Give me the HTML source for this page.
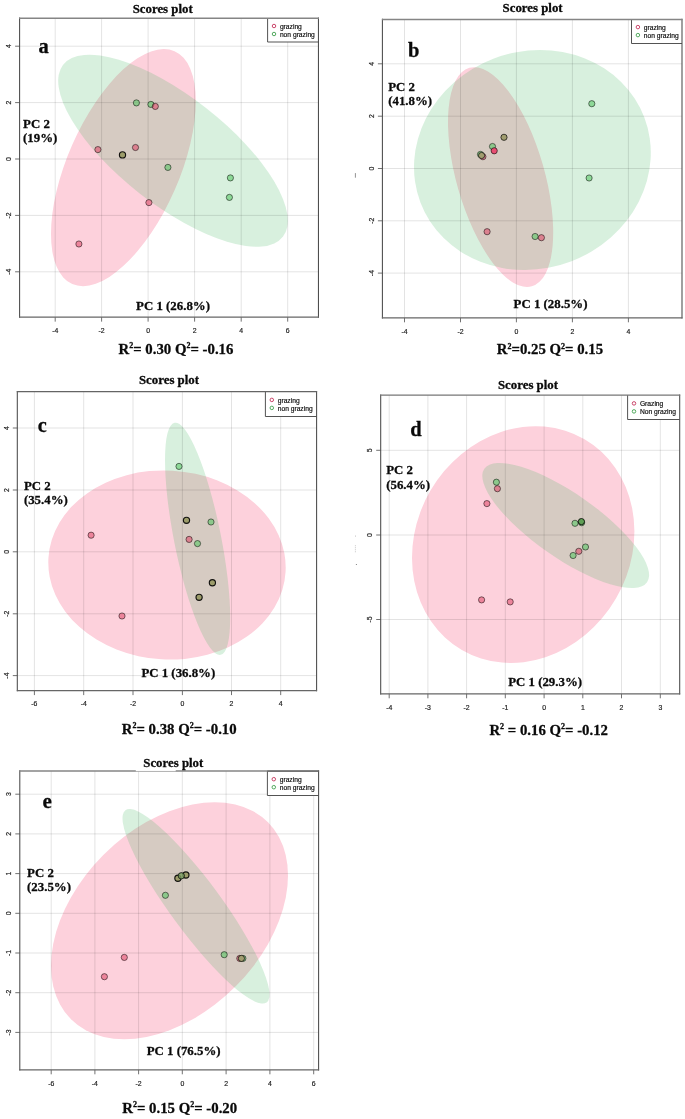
<!DOCTYPE html>
<html><head><meta charset="utf-8"><title>Scores plots</title>
<style>
html,body{margin:0;padding:0;background:#fff;}
body{width:685px;height:1119px;overflow:hidden;font-family:"Liberation Sans",sans-serif;}
svg{display:block;will-change:transform;}
</style></head><body>
<svg width="685" height="1119" viewBox="0 0 685 1119">
<rect width="685" height="1119" fill="#fff"/>
<clipPath id="cpa"><rect x="19.6" y="18.15" width="298.84999999999997" height="299.0"/></clipPath>
<g clip-path="url(#cpa)">
<ellipse cx="123.40" cy="167.60" rx="127.18" ry="55.98" transform="rotate(113.71 123.40 167.60)" fill="rgb(253,209,220)" />
<ellipse cx="173.00" cy="150.80" rx="139.53" ry="54.10" transform="rotate(-141.93 173.00 150.80)" fill="rgb(60,180,90)" fill-opacity="0.2"/>
<line x1="55.20" y1="18.15" x2="55.20" y2="317.15" stroke="#000" stroke-opacity="0.11" stroke-width="1"/>
<line x1="101.60" y1="18.15" x2="101.60" y2="317.15" stroke="#000" stroke-opacity="0.11" stroke-width="1"/>
<line x1="148.10" y1="18.15" x2="148.10" y2="317.15" stroke="#000" stroke-opacity="0.11" stroke-width="1"/>
<line x1="194.60" y1="18.15" x2="194.60" y2="317.15" stroke="#000" stroke-opacity="0.11" stroke-width="1"/>
<line x1="241.20" y1="18.15" x2="241.20" y2="317.15" stroke="#000" stroke-opacity="0.11" stroke-width="1"/>
<line x1="287.70" y1="18.15" x2="287.70" y2="317.15" stroke="#000" stroke-opacity="0.11" stroke-width="1"/>
<line x1="19.6" y1="46.20" x2="318.45" y2="46.20" stroke="#000" stroke-opacity="0.11" stroke-width="1"/>
<line x1="19.6" y1="102.60" x2="318.45" y2="102.60" stroke="#000" stroke-opacity="0.11" stroke-width="1"/>
<line x1="19.6" y1="159.00" x2="318.45" y2="159.00" stroke="#000" stroke-opacity="0.11" stroke-width="1"/>
<line x1="19.6" y1="215.40" x2="318.45" y2="215.40" stroke="#000" stroke-opacity="0.11" stroke-width="1"/>
<line x1="19.6" y1="271.80" x2="318.45" y2="271.80" stroke="#000" stroke-opacity="0.11" stroke-width="1"/>
<circle cx="97.90" cy="149.60" r="3.1" fill="rgb(223,72,104)" fill-opacity="0.56" stroke="#000" stroke-opacity="0.68" stroke-width="0.75"/>
<circle cx="135.50" cy="147.50" r="3.1" fill="rgb(223,72,104)" fill-opacity="0.56" stroke="#000" stroke-opacity="0.68" stroke-width="0.75"/>
<circle cx="122.50" cy="154.90" r="3.1" fill="rgb(156,156,106)" fill-opacity="1" stroke="#000" stroke-opacity="0.9" stroke-width="1.15"/>
<circle cx="148.90" cy="202.60" r="3.1" fill="rgb(223,72,104)" fill-opacity="0.56" stroke="#000" stroke-opacity="0.68" stroke-width="0.75"/>
<circle cx="78.90" cy="244.00" r="3.1" fill="rgb(223,72,104)" fill-opacity="0.56" stroke="#000" stroke-opacity="0.68" stroke-width="0.75"/>
<circle cx="136.40" cy="102.90" r="3.1" fill="rgb(82,198,96)" fill-opacity="0.56" stroke="#000" stroke-opacity="0.68" stroke-width="0.75"/>
<circle cx="150.90" cy="104.40" r="3.1" fill="rgb(82,198,96)" fill-opacity="0.56" stroke="#000" stroke-opacity="0.68" stroke-width="0.75"/>
<circle cx="155.30" cy="106.40" r="3.1" fill="rgb(223,72,104)" fill-opacity="0.56" stroke="#000" stroke-opacity="0.68" stroke-width="0.75"/>
<circle cx="167.90" cy="167.40" r="3.1" fill="rgb(82,198,96)" fill-opacity="0.56" stroke="#000" stroke-opacity="0.68" stroke-width="0.75"/>
<circle cx="230.40" cy="177.90" r="3.1" fill="rgb(82,198,96)" fill-opacity="0.56" stroke="#000" stroke-opacity="0.68" stroke-width="0.75"/>
<circle cx="229.40" cy="197.40" r="3.1" fill="rgb(82,198,96)" fill-opacity="0.56" stroke="#000" stroke-opacity="0.68" stroke-width="0.75"/>
</g>
<line x1="55.20" y1="317.15" x2="55.20" y2="321.65" stroke="#6a6a6a" stroke-width="0.95"/>
<text x="55.20" y="332.84999999999997" font-family="Liberation Sans, sans-serif" stroke="#222" stroke-width="0.18" font-size="6.9" text-anchor="middle" fill="#1a1a1a">-4</text>
<line x1="101.60" y1="317.15" x2="101.60" y2="321.65" stroke="#6a6a6a" stroke-width="0.95"/>
<text x="101.60" y="332.84999999999997" font-family="Liberation Sans, sans-serif" stroke="#222" stroke-width="0.18" font-size="6.9" text-anchor="middle" fill="#1a1a1a">-2</text>
<line x1="148.10" y1="317.15" x2="148.10" y2="321.65" stroke="#6a6a6a" stroke-width="0.95"/>
<text x="148.10" y="332.84999999999997" font-family="Liberation Sans, sans-serif" stroke="#222" stroke-width="0.18" font-size="6.9" text-anchor="middle" fill="#1a1a1a">0</text>
<line x1="194.60" y1="317.15" x2="194.60" y2="321.65" stroke="#6a6a6a" stroke-width="0.95"/>
<text x="194.60" y="332.84999999999997" font-family="Liberation Sans, sans-serif" stroke="#222" stroke-width="0.18" font-size="6.9" text-anchor="middle" fill="#1a1a1a">2</text>
<line x1="241.20" y1="317.15" x2="241.20" y2="321.65" stroke="#6a6a6a" stroke-width="0.95"/>
<text x="241.20" y="332.84999999999997" font-family="Liberation Sans, sans-serif" stroke="#222" stroke-width="0.18" font-size="6.9" text-anchor="middle" fill="#1a1a1a">4</text>
<line x1="287.70" y1="317.15" x2="287.70" y2="321.65" stroke="#6a6a6a" stroke-width="0.95"/>
<text x="287.70" y="332.84999999999997" font-family="Liberation Sans, sans-serif" stroke="#222" stroke-width="0.18" font-size="6.9" text-anchor="middle" fill="#1a1a1a">6</text>
<line x1="15.100000000000001" y1="46.20" x2="19.6" y2="46.20" stroke="#6a6a6a" stroke-width="0.95"/>
<text transform="translate(11.10 46.20) rotate(-90)" font-family="Liberation Sans, sans-serif" stroke="#222" stroke-width="0.18" font-size="6.9" text-anchor="middle" fill="#1a1a1a">4</text>
<line x1="15.100000000000001" y1="102.60" x2="19.6" y2="102.60" stroke="#6a6a6a" stroke-width="0.95"/>
<text transform="translate(11.10 102.60) rotate(-90)" font-family="Liberation Sans, sans-serif" stroke="#222" stroke-width="0.18" font-size="6.9" text-anchor="middle" fill="#1a1a1a">2</text>
<line x1="15.100000000000001" y1="159.00" x2="19.6" y2="159.00" stroke="#6a6a6a" stroke-width="0.95"/>
<text transform="translate(11.10 159.00) rotate(-90)" font-family="Liberation Sans, sans-serif" stroke="#222" stroke-width="0.18" font-size="6.9" text-anchor="middle" fill="#1a1a1a">0</text>
<line x1="15.100000000000001" y1="215.40" x2="19.6" y2="215.40" stroke="#6a6a6a" stroke-width="0.95"/>
<text transform="translate(11.10 215.40) rotate(-90)" font-family="Liberation Sans, sans-serif" stroke="#222" stroke-width="0.18" font-size="6.9" text-anchor="middle" fill="#1a1a1a">-2</text>
<line x1="15.100000000000001" y1="271.80" x2="19.6" y2="271.80" stroke="#6a6a6a" stroke-width="0.95"/>
<text transform="translate(11.10 271.80) rotate(-90)" font-family="Liberation Sans, sans-serif" stroke="#222" stroke-width="0.18" font-size="6.9" text-anchor="middle" fill="#1a1a1a">-4</text>
<rect x="267.6" y="18.15" width="50.849999999999966" height="23.85" fill="#fff"/>
<path d="M267.6 18.15V42.0H318.45" fill="none" stroke="#4a4a4a" stroke-width="0.95"/>
<circle cx="274.0" cy="26.0" r="1.75" fill="none" stroke="#C4325A" stroke-width="0.9"/>
<circle cx="274.0" cy="34.0" r="1.75" fill="none" stroke="#3FA04D" stroke-width="0.9"/>
<text x="279.90000000000003" y="28.8" font-family="Liberation Sans, sans-serif" stroke="#222" stroke-width="0.18" font-size="6.7" fill="#000">grazing</text>
<text x="279.90000000000003" y="36.8" font-family="Liberation Sans, sans-serif" stroke="#222" stroke-width="0.18" font-size="6.7" fill="#000">non grazing</text>
<path d="M19.6 17.549999999999997V317.75M318.45 17.549999999999997V317.75" fill="none" stroke="#4a4a4a" stroke-width="1.05"/>
<path d="M19.1 18.15H318.95" fill="none" stroke="#858585" stroke-width="1.45"/>
<path d="M19.1 317.15H318.95" fill="none" stroke="#666" stroke-width="1.35"/>

<text x="162.7" y="12.6" font-family="Liberation Serif, serif" font-weight="bold" fill="#0a0a0a" stroke="#0a0a0a" stroke-width="0.28" font-size="12.85" text-anchor="middle">Scores plot</text>
<text x="38.6" y="52.6" font-family="Liberation Serif, serif" font-weight="bold" fill="#0a0a0a" stroke="#0a0a0a" stroke-width="0.28" font-size="20.5">a</text>
<text x="23.1" y="128" font-family="Liberation Serif, serif" font-weight="bold" fill="#0a0a0a" stroke="#0a0a0a" stroke-width="0.28" font-size="12.85">PC 2</text>
<text x="23.1" y="142.35" font-family="Liberation Serif, serif" font-weight="bold" fill="#0a0a0a" stroke="#0a0a0a" stroke-width="0.28" font-size="12.85">(19%)</text>
<text x="136.1" y="310.1" font-family="Liberation Serif, serif" font-weight="bold" fill="#0a0a0a" stroke="#0a0a0a" stroke-width="0.28" font-size="12.85">PC 1 (26.8%)</text>
<text x="118.5" y="353.5" font-family="Liberation Serif, serif" font-weight="bold" fill="#0a0a0a" stroke="#0a0a0a" stroke-width="0.28" font-size="14.8"><tspan>R</tspan><tspan font-size="8" dy="-5.6">2</tspan><tspan dy="5.6" font-size="14.8">&#8203;</tspan><tspan>= 0.30 Q</tspan><tspan font-size="8" dy="-5.6">2</tspan><tspan dy="5.6" font-size="14.8">&#8203;</tspan><tspan>= -0.16</tspan></text>
<clipPath id="cpb"><rect x="382.4" y="19.4" width="299.6" height="298.40000000000003"/></clipPath>
<g clip-path="url(#cpb)">
<ellipse cx="500.60" cy="177.10" rx="113.61" ry="44.02" transform="rotate(74.04 500.60 177.10)" fill="rgb(253,209,220)" />
<ellipse cx="532.40" cy="160.00" rx="119.75" ry="108.52" transform="rotate(159.23 532.40 160.00)" fill="rgb(60,180,90)" fill-opacity="0.2"/>
<line x1="404.50" y1="19.4" x2="404.50" y2="317.8" stroke="#000" stroke-opacity="0.11" stroke-width="1"/>
<line x1="460.50" y1="19.4" x2="460.50" y2="317.8" stroke="#000" stroke-opacity="0.11" stroke-width="1"/>
<line x1="516.40" y1="19.4" x2="516.40" y2="317.8" stroke="#000" stroke-opacity="0.11" stroke-width="1"/>
<line x1="572.40" y1="19.4" x2="572.40" y2="317.8" stroke="#000" stroke-opacity="0.11" stroke-width="1"/>
<line x1="628.40" y1="19.4" x2="628.40" y2="317.8" stroke="#000" stroke-opacity="0.11" stroke-width="1"/>
<line x1="382.4" y1="63.80" x2="682" y2="63.80" stroke="#000" stroke-opacity="0.11" stroke-width="1"/>
<line x1="382.4" y1="116.20" x2="682" y2="116.20" stroke="#000" stroke-opacity="0.11" stroke-width="1"/>
<line x1="382.4" y1="168.50" x2="682" y2="168.50" stroke="#000" stroke-opacity="0.11" stroke-width="1"/>
<line x1="382.4" y1="220.80" x2="682" y2="220.80" stroke="#000" stroke-opacity="0.11" stroke-width="1"/>
<line x1="382.4" y1="273.10" x2="682" y2="273.10" stroke="#000" stroke-opacity="0.11" stroke-width="1"/>
<circle cx="504.00" cy="137.30" r="3.1" fill="rgb(161,157,111)" fill-opacity="1" stroke="#000" stroke-opacity="0.8" stroke-width="0.85"/>
<circle cx="492.50" cy="146.50" r="3.1" fill="rgb(82,198,96)" fill-opacity="0.56" stroke="#000" stroke-opacity="0.68" stroke-width="0.75"/>
<circle cx="494.20" cy="150.80" r="3.1" fill="rgb(232,78,114)" fill-opacity="1" stroke="#000" stroke-opacity="0.75" stroke-width="0.8"/>
<circle cx="482.90" cy="156.70" r="3.1" fill="rgb(223,72,104)" fill-opacity="0.56" stroke="#000" stroke-opacity="0.68" stroke-width="0.75"/>
<circle cx="480.50" cy="154.40" r="3.1" fill="rgb(82,198,96)" fill-opacity="0.56" stroke="#000" stroke-opacity="0.68" stroke-width="0.75"/>
<circle cx="481.60" cy="155.50" r="3.1" fill="rgb(161,157,111)" fill-opacity="1" stroke="#000" stroke-opacity="0.8" stroke-width="0.85"/>
<circle cx="591.80" cy="103.70" r="3.1" fill="rgb(82,198,96)" fill-opacity="0.56" stroke="#000" stroke-opacity="0.68" stroke-width="0.75"/>
<circle cx="589.10" cy="178.00" r="3.1" fill="rgb(82,198,96)" fill-opacity="0.56" stroke="#000" stroke-opacity="0.68" stroke-width="0.75"/>
<circle cx="487.10" cy="231.70" r="3.1" fill="rgb(223,72,104)" fill-opacity="0.56" stroke="#000" stroke-opacity="0.68" stroke-width="0.75"/>
<circle cx="535.10" cy="236.50" r="3.1" fill="rgb(82,198,96)" fill-opacity="0.56" stroke="#000" stroke-opacity="0.68" stroke-width="0.75"/>
<circle cx="541.40" cy="237.70" r="3.1" fill="rgb(223,72,104)" fill-opacity="0.56" stroke="#000" stroke-opacity="0.68" stroke-width="0.75"/>
</g>
<line x1="404.50" y1="317.8" x2="404.50" y2="322.3" stroke="#6a6a6a" stroke-width="0.95"/>
<text x="404.50" y="333.5" font-family="Liberation Sans, sans-serif" stroke="#222" stroke-width="0.18" font-size="6.9" text-anchor="middle" fill="#1a1a1a">-4</text>
<line x1="460.50" y1="317.8" x2="460.50" y2="322.3" stroke="#6a6a6a" stroke-width="0.95"/>
<text x="460.50" y="333.5" font-family="Liberation Sans, sans-serif" stroke="#222" stroke-width="0.18" font-size="6.9" text-anchor="middle" fill="#1a1a1a">-2</text>
<line x1="516.40" y1="317.8" x2="516.40" y2="322.3" stroke="#6a6a6a" stroke-width="0.95"/>
<text x="516.40" y="333.5" font-family="Liberation Sans, sans-serif" stroke="#222" stroke-width="0.18" font-size="6.9" text-anchor="middle" fill="#1a1a1a">0</text>
<line x1="572.40" y1="317.8" x2="572.40" y2="322.3" stroke="#6a6a6a" stroke-width="0.95"/>
<text x="572.40" y="333.5" font-family="Liberation Sans, sans-serif" stroke="#222" stroke-width="0.18" font-size="6.9" text-anchor="middle" fill="#1a1a1a">2</text>
<line x1="628.40" y1="317.8" x2="628.40" y2="322.3" stroke="#6a6a6a" stroke-width="0.95"/>
<text x="628.40" y="333.5" font-family="Liberation Sans, sans-serif" stroke="#222" stroke-width="0.18" font-size="6.9" text-anchor="middle" fill="#1a1a1a">4</text>
<line x1="377.9" y1="63.80" x2="382.4" y2="63.80" stroke="#6a6a6a" stroke-width="0.95"/>
<text transform="translate(373.90 63.80) rotate(-90)" font-family="Liberation Sans, sans-serif" stroke="#222" stroke-width="0.18" font-size="6.9" text-anchor="middle" fill="#1a1a1a">4</text>
<line x1="377.9" y1="116.20" x2="382.4" y2="116.20" stroke="#6a6a6a" stroke-width="0.95"/>
<text transform="translate(373.90 116.20) rotate(-90)" font-family="Liberation Sans, sans-serif" stroke="#222" stroke-width="0.18" font-size="6.9" text-anchor="middle" fill="#1a1a1a">2</text>
<line x1="377.9" y1="168.50" x2="382.4" y2="168.50" stroke="#6a6a6a" stroke-width="0.95"/>
<text transform="translate(373.90 168.50) rotate(-90)" font-family="Liberation Sans, sans-serif" stroke="#222" stroke-width="0.18" font-size="6.9" text-anchor="middle" fill="#1a1a1a">0</text>
<line x1="377.9" y1="220.80" x2="382.4" y2="220.80" stroke="#6a6a6a" stroke-width="0.95"/>
<text transform="translate(373.90 220.80) rotate(-90)" font-family="Liberation Sans, sans-serif" stroke="#222" stroke-width="0.18" font-size="6.9" text-anchor="middle" fill="#1a1a1a">-2</text>
<line x1="377.9" y1="273.10" x2="382.4" y2="273.10" stroke="#6a6a6a" stroke-width="0.95"/>
<text transform="translate(373.90 273.10) rotate(-90)" font-family="Liberation Sans, sans-serif" stroke="#222" stroke-width="0.18" font-size="6.9" text-anchor="middle" fill="#1a1a1a">-4</text>
<rect x="631.5" y="19.4" width="50.5" height="24.1" fill="#fff"/>
<path d="M631.5 19.4V43.5H682" fill="none" stroke="#4a4a4a" stroke-width="0.95"/>
<circle cx="637.9" cy="27.1" r="1.75" fill="none" stroke="#C4325A" stroke-width="0.9"/>
<circle cx="637.9" cy="35.1" r="1.75" fill="none" stroke="#3FA04D" stroke-width="0.9"/>
<text x="643.8" y="29.900000000000002" font-family="Liberation Sans, sans-serif" stroke="#222" stroke-width="0.18" font-size="6.7" fill="#000">grazing</text>
<text x="643.8" y="37.9" font-family="Liberation Sans, sans-serif" stroke="#222" stroke-width="0.18" font-size="6.7" fill="#000">non grazing</text>
<path d="M382.4 18.799999999999997V318.40000000000003M682 18.799999999999997V318.40000000000003" fill="none" stroke="#4a4a4a" stroke-width="1.05"/>
<path d="M381.9 19.4H682.5" fill="none" stroke="#858585" stroke-width="1.45"/>
<path d="M381.9 317.8H682.5" fill="none" stroke="#666" stroke-width="1.35"/>
<line x1="355.4" y1="173.1" x2="355.4" y2="177.7" stroke="#777" stroke-width="0.8"/>
<text x="532.6" y="11.9" font-family="Liberation Serif, serif" font-weight="bold" fill="#0a0a0a" stroke="#0a0a0a" stroke-width="0.28" font-size="12.85" text-anchor="middle">Scores plot</text>
<text x="407.9" y="57.3" font-family="Liberation Serif, serif" font-weight="bold" fill="#0a0a0a" stroke="#0a0a0a" stroke-width="0.28" font-size="20.5">b</text>
<text x="388.2" y="90.9" font-family="Liberation Serif, serif" font-weight="bold" fill="#0a0a0a" stroke="#0a0a0a" stroke-width="0.28" font-size="12.85">PC 2</text>
<text x="388.2" y="105.25" font-family="Liberation Serif, serif" font-weight="bold" fill="#0a0a0a" stroke="#0a0a0a" stroke-width="0.28" font-size="12.85">(41.8%)</text>
<text x="513.6" y="308.1" font-family="Liberation Serif, serif" font-weight="bold" fill="#0a0a0a" stroke="#0a0a0a" stroke-width="0.28" font-size="12.85">PC 1 (28.5%)</text>
<text x="496.8" y="354.2" font-family="Liberation Serif, serif" font-weight="bold" fill="#0a0a0a" stroke="#0a0a0a" stroke-width="0.28" font-size="14.8"><tspan>R</tspan><tspan font-size="8" dy="-5.6">2</tspan><tspan dy="5.6" font-size="14.8">&#8203;</tspan><tspan>=0.25 Q</tspan><tspan font-size="8" dy="-5.6">2</tspan><tspan dy="5.6" font-size="14.8">&#8203;</tspan><tspan>= 0.15</tspan></text>
<clipPath id="cpc"><rect x="17.3" y="391.6" width="299.3" height="299.0"/></clipPath>
<g clip-path="url(#cpc)">
<ellipse cx="167.00" cy="565.00" rx="118.77" ry="94.51" transform="rotate(-176.67 167.00 565.00)" fill="rgb(253,209,220)" />
<ellipse cx="197.60" cy="538.80" rx="118.28" ry="23.49" transform="rotate(78.76 197.60 538.80)" fill="rgb(60,180,90)" fill-opacity="0.2"/>
<line x1="34.40" y1="391.6" x2="34.40" y2="690.6" stroke="#000" stroke-opacity="0.11" stroke-width="1"/>
<line x1="83.70" y1="391.6" x2="83.70" y2="690.6" stroke="#000" stroke-opacity="0.11" stroke-width="1"/>
<line x1="133.00" y1="391.6" x2="133.00" y2="690.6" stroke="#000" stroke-opacity="0.11" stroke-width="1"/>
<line x1="182.40" y1="391.6" x2="182.40" y2="690.6" stroke="#000" stroke-opacity="0.11" stroke-width="1"/>
<line x1="231.50" y1="391.6" x2="231.50" y2="690.6" stroke="#000" stroke-opacity="0.11" stroke-width="1"/>
<line x1="280.70" y1="391.6" x2="280.70" y2="690.6" stroke="#000" stroke-opacity="0.11" stroke-width="1"/>
<line x1="17.3" y1="428.00" x2="316.6" y2="428.00" stroke="#000" stroke-opacity="0.11" stroke-width="1"/>
<line x1="17.3" y1="490.00" x2="316.6" y2="490.00" stroke="#000" stroke-opacity="0.11" stroke-width="1"/>
<line x1="17.3" y1="551.80" x2="316.6" y2="551.80" stroke="#000" stroke-opacity="0.11" stroke-width="1"/>
<line x1="17.3" y1="613.80" x2="316.6" y2="613.80" stroke="#000" stroke-opacity="0.11" stroke-width="1"/>
<line x1="17.3" y1="675.60" x2="316.6" y2="675.60" stroke="#000" stroke-opacity="0.11" stroke-width="1"/>
<circle cx="91.10" cy="535.20" r="3.1" fill="rgb(223,72,104)" fill-opacity="0.56" stroke="#000" stroke-opacity="0.68" stroke-width="0.75"/>
<circle cx="122.00" cy="616.00" r="3.1" fill="rgb(223,72,104)" fill-opacity="0.56" stroke="#000" stroke-opacity="0.68" stroke-width="0.75"/>
<circle cx="179.00" cy="466.40" r="3.1" fill="rgb(82,198,96)" fill-opacity="0.56" stroke="#000" stroke-opacity="0.68" stroke-width="0.75"/>
<circle cx="186.50" cy="520.30" r="3.1" fill="rgb(156,156,106)" fill-opacity="1" stroke="#000" stroke-opacity="0.9" stroke-width="1.15"/>
<circle cx="211.00" cy="522.00" r="3.1" fill="rgb(82,198,96)" fill-opacity="0.56" stroke="#000" stroke-opacity="0.68" stroke-width="0.75"/>
<circle cx="189.10" cy="539.40" r="3.1" fill="rgb(223,72,104)" fill-opacity="0.56" stroke="#000" stroke-opacity="0.68" stroke-width="0.75"/>
<circle cx="197.50" cy="543.60" r="3.1" fill="rgb(82,198,96)" fill-opacity="0.56" stroke="#000" stroke-opacity="0.68" stroke-width="0.75"/>
<circle cx="212.40" cy="582.70" r="3.1" fill="rgb(156,156,106)" fill-opacity="1" stroke="#000" stroke-opacity="0.9" stroke-width="1.15"/>
<circle cx="199.10" cy="597.30" r="3.1" fill="rgb(156,156,106)" fill-opacity="1" stroke="#000" stroke-opacity="0.9" stroke-width="1.15"/>
</g>
<line x1="34.40" y1="690.6" x2="34.40" y2="695.1" stroke="#6a6a6a" stroke-width="0.95"/>
<text x="34.40" y="706.3000000000001" font-family="Liberation Sans, sans-serif" stroke="#222" stroke-width="0.18" font-size="6.9" text-anchor="middle" fill="#1a1a1a">-6</text>
<line x1="83.70" y1="690.6" x2="83.70" y2="695.1" stroke="#6a6a6a" stroke-width="0.95"/>
<text x="83.70" y="706.3000000000001" font-family="Liberation Sans, sans-serif" stroke="#222" stroke-width="0.18" font-size="6.9" text-anchor="middle" fill="#1a1a1a">-4</text>
<line x1="133.00" y1="690.6" x2="133.00" y2="695.1" stroke="#6a6a6a" stroke-width="0.95"/>
<text x="133.00" y="706.3000000000001" font-family="Liberation Sans, sans-serif" stroke="#222" stroke-width="0.18" font-size="6.9" text-anchor="middle" fill="#1a1a1a">-2</text>
<line x1="182.40" y1="690.6" x2="182.40" y2="695.1" stroke="#6a6a6a" stroke-width="0.95"/>
<text x="182.40" y="706.3000000000001" font-family="Liberation Sans, sans-serif" stroke="#222" stroke-width="0.18" font-size="6.9" text-anchor="middle" fill="#1a1a1a">0</text>
<line x1="231.50" y1="690.6" x2="231.50" y2="695.1" stroke="#6a6a6a" stroke-width="0.95"/>
<text x="231.50" y="706.3000000000001" font-family="Liberation Sans, sans-serif" stroke="#222" stroke-width="0.18" font-size="6.9" text-anchor="middle" fill="#1a1a1a">2</text>
<line x1="280.70" y1="690.6" x2="280.70" y2="695.1" stroke="#6a6a6a" stroke-width="0.95"/>
<text x="280.70" y="706.3000000000001" font-family="Liberation Sans, sans-serif" stroke="#222" stroke-width="0.18" font-size="6.9" text-anchor="middle" fill="#1a1a1a">4</text>
<line x1="12.8" y1="428.00" x2="17.3" y2="428.00" stroke="#6a6a6a" stroke-width="0.95"/>
<text transform="translate(8.80 428.00) rotate(-90)" font-family="Liberation Sans, sans-serif" stroke="#222" stroke-width="0.18" font-size="6.9" text-anchor="middle" fill="#1a1a1a">4</text>
<line x1="12.8" y1="490.00" x2="17.3" y2="490.00" stroke="#6a6a6a" stroke-width="0.95"/>
<text transform="translate(8.80 490.00) rotate(-90)" font-family="Liberation Sans, sans-serif" stroke="#222" stroke-width="0.18" font-size="6.9" text-anchor="middle" fill="#1a1a1a">2</text>
<line x1="12.8" y1="551.80" x2="17.3" y2="551.80" stroke="#6a6a6a" stroke-width="0.95"/>
<text transform="translate(8.80 551.80) rotate(-90)" font-family="Liberation Sans, sans-serif" stroke="#222" stroke-width="0.18" font-size="6.9" text-anchor="middle" fill="#1a1a1a">0</text>
<line x1="12.8" y1="613.80" x2="17.3" y2="613.80" stroke="#6a6a6a" stroke-width="0.95"/>
<text transform="translate(8.80 613.80) rotate(-90)" font-family="Liberation Sans, sans-serif" stroke="#222" stroke-width="0.18" font-size="6.9" text-anchor="middle" fill="#1a1a1a">-2</text>
<line x1="12.8" y1="675.60" x2="17.3" y2="675.60" stroke="#6a6a6a" stroke-width="0.95"/>
<text transform="translate(8.80 675.60) rotate(-90)" font-family="Liberation Sans, sans-serif" stroke="#222" stroke-width="0.18" font-size="6.9" text-anchor="middle" fill="#1a1a1a">-4</text>
<rect x="265.4" y="391.6" width="51.200000000000045" height="24.899999999999977" fill="#fff"/>
<path d="M265.4 391.6V416.5H316.6" fill="none" stroke="#4a4a4a" stroke-width="0.95"/>
<circle cx="271.79999999999995" cy="399.9" r="1.75" fill="none" stroke="#C4325A" stroke-width="0.9"/>
<circle cx="271.79999999999995" cy="407.9" r="1.75" fill="none" stroke="#3FA04D" stroke-width="0.9"/>
<text x="277.7" y="402.7" font-family="Liberation Sans, sans-serif" stroke="#222" stroke-width="0.18" font-size="6.7" fill="#000">grazing</text>
<text x="277.7" y="410.7" font-family="Liberation Sans, sans-serif" stroke="#222" stroke-width="0.18" font-size="6.7" fill="#000">non grazing</text>
<path d="M17.3 391.0V691.2M316.6 391.0V691.2" fill="none" stroke="#4a4a4a" stroke-width="1.05"/>
<path d="M16.8 391.6H317.1" fill="none" stroke="#646464" stroke-width="1.45"/>
<path d="M16.8 690.6H317.1" fill="none" stroke="#666" stroke-width="1.35"/>

<text x="169" y="384" font-family="Liberation Serif, serif" font-weight="bold" fill="#0a0a0a" stroke="#0a0a0a" stroke-width="0.28" font-size="12.85" text-anchor="middle">Scores plot</text>
<text x="37.7" y="431.8" font-family="Liberation Serif, serif" font-weight="bold" fill="#0a0a0a" stroke="#0a0a0a" stroke-width="0.28" font-size="20.3">c</text>
<text x="23.9" y="489.7" font-family="Liberation Serif, serif" font-weight="bold" fill="#0a0a0a" stroke="#0a0a0a" stroke-width="0.28" font-size="12.85">PC 2</text>
<text x="23.9" y="504.05" font-family="Liberation Serif, serif" font-weight="bold" fill="#0a0a0a" stroke="#0a0a0a" stroke-width="0.28" font-size="12.85">(35.4%)</text>
<text x="141.4" y="677.2" font-family="Liberation Serif, serif" font-weight="bold" fill="#0a0a0a" stroke="#0a0a0a" stroke-width="0.28" font-size="12.85">PC 1 (36.8%)</text>
<text x="121.8" y="733.7" font-family="Liberation Serif, serif" font-weight="bold" fill="#0a0a0a" stroke="#0a0a0a" stroke-width="0.28" font-size="14.8"><tspan>R</tspan><tspan font-size="8" dy="-5.6">2</tspan><tspan dy="5.6" font-size="14.8">&#8203;</tspan><tspan>= 0.38 Q</tspan><tspan font-size="8" dy="-5.6">2</tspan><tspan dy="5.6" font-size="14.8">&#8203;</tspan><tspan>= -0.10</tspan></text>
<clipPath id="cpd"><rect x="380.7" y="395.1" width="299.00000000000006" height="298.69999999999993"/></clipPath>
<g clip-path="url(#cpd)">
<ellipse cx="523.20" cy="544.60" rx="121.93" ry="107.32" transform="rotate(120.21 523.20 544.60)" fill="rgb(253,209,220)" />
<ellipse cx="565.70" cy="525.50" rx="99.21" ry="32.11" transform="rotate(-145.08 565.70 525.50)" fill="rgb(60,180,90)" fill-opacity="0.2"/>
<line x1="389.20" y1="395.1" x2="389.20" y2="693.8" stroke="#000" stroke-opacity="0.11" stroke-width="1"/>
<line x1="427.90" y1="395.1" x2="427.90" y2="693.8" stroke="#000" stroke-opacity="0.11" stroke-width="1"/>
<line x1="466.60" y1="395.1" x2="466.60" y2="693.8" stroke="#000" stroke-opacity="0.11" stroke-width="1"/>
<line x1="505.30" y1="395.1" x2="505.30" y2="693.8" stroke="#000" stroke-opacity="0.11" stroke-width="1"/>
<line x1="544.10" y1="395.1" x2="544.10" y2="693.8" stroke="#000" stroke-opacity="0.11" stroke-width="1"/>
<line x1="582.80" y1="395.1" x2="582.80" y2="693.8" stroke="#000" stroke-opacity="0.11" stroke-width="1"/>
<line x1="621.50" y1="395.1" x2="621.50" y2="693.8" stroke="#000" stroke-opacity="0.11" stroke-width="1"/>
<line x1="660.30" y1="395.1" x2="660.30" y2="693.8" stroke="#000" stroke-opacity="0.11" stroke-width="1"/>
<line x1="380.7" y1="450.30" x2="679.7" y2="450.30" stroke="#000" stroke-opacity="0.11" stroke-width="1"/>
<line x1="380.7" y1="535.00" x2="679.7" y2="535.00" stroke="#000" stroke-opacity="0.11" stroke-width="1"/>
<line x1="380.7" y1="619.50" x2="679.7" y2="619.50" stroke="#000" stroke-opacity="0.11" stroke-width="1"/>
<circle cx="497.40" cy="488.70" r="3.1" fill="rgb(223,72,104)" fill-opacity="0.56" stroke="#000" stroke-opacity="0.68" stroke-width="0.75"/>
<circle cx="496.40" cy="482.20" r="3.1" fill="rgb(82,198,96)" fill-opacity="0.56" stroke="#000" stroke-opacity="0.68" stroke-width="0.75"/>
<circle cx="486.90" cy="503.60" r="3.1" fill="rgb(223,72,104)" fill-opacity="0.56" stroke="#000" stroke-opacity="0.68" stroke-width="0.75"/>
<circle cx="575.00" cy="523.30" r="3.1" fill="rgb(82,198,96)" fill-opacity="0.56" stroke="#000" stroke-opacity="0.68" stroke-width="0.75"/>
<circle cx="581.60" cy="522.70" r="3.1" fill="rgb(82,198,96)" fill-opacity="0.56" stroke="#000" stroke-opacity="0.68" stroke-width="0.75"/>
<circle cx="581.40" cy="521.60" r="3.1" fill="rgb(96,160,86)" fill-opacity="1" stroke="#000" stroke-opacity="0.85" stroke-width="0.95"/>
<circle cx="585.50" cy="547.00" r="3.1" fill="rgb(82,198,96)" fill-opacity="0.56" stroke="#000" stroke-opacity="0.68" stroke-width="0.75"/>
<circle cx="573.10" cy="555.50" r="3.1" fill="rgb(82,198,96)" fill-opacity="0.56" stroke="#000" stroke-opacity="0.68" stroke-width="0.75"/>
<circle cx="578.80" cy="551.30" r="3.1" fill="rgb(223,72,104)" fill-opacity="0.56" stroke="#000" stroke-opacity="0.68" stroke-width="0.75"/>
<circle cx="481.60" cy="599.90" r="3.1" fill="rgb(223,72,104)" fill-opacity="0.56" stroke="#000" stroke-opacity="0.68" stroke-width="0.75"/>
<circle cx="510.20" cy="601.90" r="3.1" fill="rgb(223,72,104)" fill-opacity="0.56" stroke="#000" stroke-opacity="0.68" stroke-width="0.75"/>
</g>
<line x1="389.20" y1="693.8" x2="389.20" y2="698.3" stroke="#6a6a6a" stroke-width="0.95"/>
<text x="389.20" y="709.5" font-family="Liberation Sans, sans-serif" stroke="#222" stroke-width="0.18" font-size="6.9" text-anchor="middle" fill="#1a1a1a">-4</text>
<line x1="427.90" y1="693.8" x2="427.90" y2="698.3" stroke="#6a6a6a" stroke-width="0.95"/>
<text x="427.90" y="709.5" font-family="Liberation Sans, sans-serif" stroke="#222" stroke-width="0.18" font-size="6.9" text-anchor="middle" fill="#1a1a1a">-3</text>
<line x1="466.60" y1="693.8" x2="466.60" y2="698.3" stroke="#6a6a6a" stroke-width="0.95"/>
<text x="466.60" y="709.5" font-family="Liberation Sans, sans-serif" stroke="#222" stroke-width="0.18" font-size="6.9" text-anchor="middle" fill="#1a1a1a">-2</text>
<line x1="505.30" y1="693.8" x2="505.30" y2="698.3" stroke="#6a6a6a" stroke-width="0.95"/>
<text x="505.30" y="709.5" font-family="Liberation Sans, sans-serif" stroke="#222" stroke-width="0.18" font-size="6.9" text-anchor="middle" fill="#1a1a1a">-1</text>
<line x1="544.10" y1="693.8" x2="544.10" y2="698.3" stroke="#6a6a6a" stroke-width="0.95"/>
<text x="544.10" y="709.5" font-family="Liberation Sans, sans-serif" stroke="#222" stroke-width="0.18" font-size="6.9" text-anchor="middle" fill="#1a1a1a">0</text>
<line x1="582.80" y1="693.8" x2="582.80" y2="698.3" stroke="#6a6a6a" stroke-width="0.95"/>
<text x="582.80" y="709.5" font-family="Liberation Sans, sans-serif" stroke="#222" stroke-width="0.18" font-size="6.9" text-anchor="middle" fill="#1a1a1a">1</text>
<line x1="621.50" y1="693.8" x2="621.50" y2="698.3" stroke="#6a6a6a" stroke-width="0.95"/>
<text x="621.50" y="709.5" font-family="Liberation Sans, sans-serif" stroke="#222" stroke-width="0.18" font-size="6.9" text-anchor="middle" fill="#1a1a1a">2</text>
<line x1="660.30" y1="693.8" x2="660.30" y2="698.3" stroke="#6a6a6a" stroke-width="0.95"/>
<text x="660.30" y="709.5" font-family="Liberation Sans, sans-serif" stroke="#222" stroke-width="0.18" font-size="6.9" text-anchor="middle" fill="#1a1a1a">3</text>
<line x1="376.2" y1="450.30" x2="380.7" y2="450.30" stroke="#6a6a6a" stroke-width="0.95"/>
<text transform="translate(372.20 450.30) rotate(-90)" font-family="Liberation Sans, sans-serif" stroke="#222" stroke-width="0.18" font-size="6.9" text-anchor="middle" fill="#1a1a1a">5</text>
<line x1="376.2" y1="535.00" x2="380.7" y2="535.00" stroke="#6a6a6a" stroke-width="0.95"/>
<text transform="translate(372.20 535.00) rotate(-90)" font-family="Liberation Sans, sans-serif" stroke="#222" stroke-width="0.18" font-size="6.9" text-anchor="middle" fill="#1a1a1a">0</text>
<line x1="376.2" y1="619.50" x2="380.7" y2="619.50" stroke="#6a6a6a" stroke-width="0.95"/>
<text transform="translate(372.20 619.50) rotate(-90)" font-family="Liberation Sans, sans-serif" stroke="#222" stroke-width="0.18" font-size="6.9" text-anchor="middle" fill="#1a1a1a">-5</text>
<rect x="627.6" y="395.1" width="52.10000000000002" height="24.399999999999977" fill="#fff"/>
<path d="M627.6 395.1V419.5H679.7" fill="none" stroke="#4a4a4a" stroke-width="0.95"/>
<circle cx="634.0" cy="403.4" r="1.75" fill="none" stroke="#C4325A" stroke-width="0.9"/>
<circle cx="634.0" cy="411.4" r="1.75" fill="none" stroke="#3FA04D" stroke-width="0.9"/>
<text x="639.9" y="406.2" font-family="Liberation Sans, sans-serif" stroke="#222" stroke-width="0.18" font-size="6.7" fill="#000">Grazing</text>
<text x="639.9" y="414.2" font-family="Liberation Sans, sans-serif" stroke="#222" stroke-width="0.18" font-size="6.7" fill="#000">Non grazing</text>
<path d="M380.7 394.5V694.4M679.7 394.5V694.4" fill="none" stroke="#4a4a4a" stroke-width="1.05"/>
<path d="M380.2 395.1H680.2" fill="none" stroke="#767676" stroke-width="1.45"/>
<path d="M380.2 693.8H680.2" fill="none" stroke="#666" stroke-width="1.35"/>
<line x1="355.4" y1="545.4" x2="355.4" y2="552.3" stroke="#999" stroke-width="0.7" stroke-dasharray="0.8 1.2"/><circle cx="356.4" cy="564.5" r="0.6" fill="#777"/><circle cx="355.5" cy="536" r="0.5" fill="#aaa"/>
<text x="528" y="389.3" font-family="Liberation Serif, serif" font-weight="bold" fill="#0a0a0a" stroke="#0a0a0a" stroke-width="0.28" font-size="12.85" text-anchor="middle">Scores plot</text>
<text x="410.3" y="435.5" font-family="Liberation Serif, serif" font-weight="bold" fill="#0a0a0a" stroke="#0a0a0a" stroke-width="0.28" font-size="20.5">d</text>
<text x="386.2" y="474.2" font-family="Liberation Serif, serif" font-weight="bold" fill="#0a0a0a" stroke="#0a0a0a" stroke-width="0.28" font-size="12.85">PC 2</text>
<text x="386.2" y="488.55" font-family="Liberation Serif, serif" font-weight="bold" fill="#0a0a0a" stroke="#0a0a0a" stroke-width="0.28" font-size="12.85">(56.4%)</text>
<text x="508.2" y="685.7" font-family="Liberation Serif, serif" font-weight="bold" fill="#0a0a0a" stroke="#0a0a0a" stroke-width="0.28" font-size="12.85">PC 1 (29.3%)</text>
<text x="489.4" y="734.6" font-family="Liberation Serif, serif" font-weight="bold" fill="#0a0a0a" stroke="#0a0a0a" stroke-width="0.28" font-size="14.8"><tspan>R</tspan><tspan font-size="8" dy="-5.6">2</tspan><tspan dy="5.6" font-size="14.8">&#8203;</tspan><tspan> = 0.16 Q</tspan><tspan font-size="8" dy="-5.6">2</tspan><tspan dy="5.6" font-size="14.8">&#8203;</tspan><tspan>= -0.12</tspan></text>
<clipPath id="cpe"><rect x="19.8" y="770.9" width="298.8" height="298.9"/></clipPath>
<g clip-path="url(#cpe)">
<ellipse cx="169.50" cy="920.70" rx="139.26" ry="93.23" transform="rotate(135.00 169.50 920.70)" fill="rgb(253,209,220)" />
<ellipse cx="196.00" cy="906.30" rx="119.27" ry="25.37" transform="rotate(53.71 196.00 906.30)" fill="rgb(60,180,90)" fill-opacity="0.2"/>
<line x1="51.20" y1="770.9" x2="51.20" y2="1069.8" stroke="#000" stroke-opacity="0.11" stroke-width="1"/>
<line x1="94.90" y1="770.9" x2="94.90" y2="1069.8" stroke="#000" stroke-opacity="0.11" stroke-width="1"/>
<line x1="138.60" y1="770.9" x2="138.60" y2="1069.8" stroke="#000" stroke-opacity="0.11" stroke-width="1"/>
<line x1="182.30" y1="770.9" x2="182.30" y2="1069.8" stroke="#000" stroke-opacity="0.11" stroke-width="1"/>
<line x1="226.10" y1="770.9" x2="226.10" y2="1069.8" stroke="#000" stroke-opacity="0.11" stroke-width="1"/>
<line x1="269.90" y1="770.9" x2="269.90" y2="1069.8" stroke="#000" stroke-opacity="0.11" stroke-width="1"/>
<line x1="313.70" y1="770.9" x2="313.70" y2="1069.8" stroke="#000" stroke-opacity="0.11" stroke-width="1"/>
<line x1="19.8" y1="794.20" x2="318.6" y2="794.20" stroke="#000" stroke-opacity="0.11" stroke-width="1"/>
<line x1="19.8" y1="833.90" x2="318.6" y2="833.90" stroke="#000" stroke-opacity="0.11" stroke-width="1"/>
<line x1="19.8" y1="873.60" x2="318.6" y2="873.60" stroke="#000" stroke-opacity="0.11" stroke-width="1"/>
<line x1="19.8" y1="913.30" x2="318.6" y2="913.30" stroke="#000" stroke-opacity="0.11" stroke-width="1"/>
<line x1="19.8" y1="953.00" x2="318.6" y2="953.00" stroke="#000" stroke-opacity="0.11" stroke-width="1"/>
<line x1="19.8" y1="992.70" x2="318.6" y2="992.70" stroke="#000" stroke-opacity="0.11" stroke-width="1"/>
<line x1="19.8" y1="1032.40" x2="318.6" y2="1032.40" stroke="#000" stroke-opacity="0.11" stroke-width="1"/>
<circle cx="165.40" cy="895.30" r="3.1" fill="rgb(82,198,96)" fill-opacity="0.56" stroke="#000" stroke-opacity="0.68" stroke-width="0.75"/>
<circle cx="185.90" cy="875.00" r="3.1" fill="rgb(156,156,106)" fill-opacity="1" stroke="#000" stroke-opacity="0.9" stroke-width="1.15"/>
<circle cx="177.90" cy="878.20" r="3.1" fill="rgb(156,156,106)" fill-opacity="1" stroke="#000" stroke-opacity="0.9" stroke-width="1.15"/>
<circle cx="181.30" cy="875.80" r="3.1" fill="rgb(223,72,104)" fill-opacity="0.56" stroke="#000" stroke-opacity="0.68" stroke-width="0.75"/>
<circle cx="181.30" cy="875.80" r="3.1" fill="rgb(82,198,96)" fill-opacity="0.56" stroke="#000" stroke-opacity="0.68" stroke-width="0.75"/>
<circle cx="124.30" cy="957.40" r="3.1" fill="rgb(223,72,104)" fill-opacity="0.56" stroke="#000" stroke-opacity="0.68" stroke-width="0.75"/>
<circle cx="104.40" cy="976.70" r="3.1" fill="rgb(223,72,104)" fill-opacity="0.56" stroke="#000" stroke-opacity="0.68" stroke-width="0.75"/>
<circle cx="224.20" cy="954.70" r="3.1" fill="rgb(82,198,96)" fill-opacity="0.56" stroke="#000" stroke-opacity="0.68" stroke-width="0.75"/>
<circle cx="239.80" cy="958.40" r="3.1" fill="rgb(223,72,104)" fill-opacity="0.56" stroke="#000" stroke-opacity="0.68" stroke-width="0.75"/>
<circle cx="242.90" cy="958.40" r="3.1" fill="rgb(82,198,96)" fill-opacity="0.56" stroke="#000" stroke-opacity="0.68" stroke-width="0.75"/>
<circle cx="241.40" cy="958.40" r="3.1" fill="rgb(161,157,111)" fill-opacity="1" stroke="#000" stroke-opacity="0.8" stroke-width="0.85"/>
</g>
<line x1="51.20" y1="1069.8" x2="51.20" y2="1074.3" stroke="#6a6a6a" stroke-width="0.95"/>
<text x="51.20" y="1085.5" font-family="Liberation Sans, sans-serif" stroke="#222" stroke-width="0.18" font-size="6.9" text-anchor="middle" fill="#1a1a1a">-6</text>
<line x1="94.90" y1="1069.8" x2="94.90" y2="1074.3" stroke="#6a6a6a" stroke-width="0.95"/>
<text x="94.90" y="1085.5" font-family="Liberation Sans, sans-serif" stroke="#222" stroke-width="0.18" font-size="6.9" text-anchor="middle" fill="#1a1a1a">-4</text>
<line x1="138.60" y1="1069.8" x2="138.60" y2="1074.3" stroke="#6a6a6a" stroke-width="0.95"/>
<text x="138.60" y="1085.5" font-family="Liberation Sans, sans-serif" stroke="#222" stroke-width="0.18" font-size="6.9" text-anchor="middle" fill="#1a1a1a">-2</text>
<line x1="182.30" y1="1069.8" x2="182.30" y2="1074.3" stroke="#6a6a6a" stroke-width="0.95"/>
<text x="182.30" y="1085.5" font-family="Liberation Sans, sans-serif" stroke="#222" stroke-width="0.18" font-size="6.9" text-anchor="middle" fill="#1a1a1a">0</text>
<line x1="226.10" y1="1069.8" x2="226.10" y2="1074.3" stroke="#6a6a6a" stroke-width="0.95"/>
<text x="226.10" y="1085.5" font-family="Liberation Sans, sans-serif" stroke="#222" stroke-width="0.18" font-size="6.9" text-anchor="middle" fill="#1a1a1a">2</text>
<line x1="269.90" y1="1069.8" x2="269.90" y2="1074.3" stroke="#6a6a6a" stroke-width="0.95"/>
<text x="269.90" y="1085.5" font-family="Liberation Sans, sans-serif" stroke="#222" stroke-width="0.18" font-size="6.9" text-anchor="middle" fill="#1a1a1a">4</text>
<line x1="313.70" y1="1069.8" x2="313.70" y2="1074.3" stroke="#6a6a6a" stroke-width="0.95"/>
<text x="313.70" y="1085.5" font-family="Liberation Sans, sans-serif" stroke="#222" stroke-width="0.18" font-size="6.9" text-anchor="middle" fill="#1a1a1a">6</text>
<line x1="15.3" y1="794.20" x2="19.8" y2="794.20" stroke="#6a6a6a" stroke-width="0.95"/>
<text transform="translate(11.30 794.20) rotate(-90)" font-family="Liberation Sans, sans-serif" stroke="#222" stroke-width="0.18" font-size="6.9" text-anchor="middle" fill="#1a1a1a">3</text>
<line x1="15.3" y1="833.90" x2="19.8" y2="833.90" stroke="#6a6a6a" stroke-width="0.95"/>
<text transform="translate(11.30 833.90) rotate(-90)" font-family="Liberation Sans, sans-serif" stroke="#222" stroke-width="0.18" font-size="6.9" text-anchor="middle" fill="#1a1a1a">2</text>
<line x1="15.3" y1="873.60" x2="19.8" y2="873.60" stroke="#6a6a6a" stroke-width="0.95"/>
<text transform="translate(11.30 873.60) rotate(-90)" font-family="Liberation Sans, sans-serif" stroke="#222" stroke-width="0.18" font-size="6.9" text-anchor="middle" fill="#1a1a1a">1</text>
<line x1="15.3" y1="913.30" x2="19.8" y2="913.30" stroke="#6a6a6a" stroke-width="0.95"/>
<text transform="translate(11.30 913.30) rotate(-90)" font-family="Liberation Sans, sans-serif" stroke="#222" stroke-width="0.18" font-size="6.9" text-anchor="middle" fill="#1a1a1a">0</text>
<line x1="15.3" y1="953.00" x2="19.8" y2="953.00" stroke="#6a6a6a" stroke-width="0.95"/>
<text transform="translate(11.30 953.00) rotate(-90)" font-family="Liberation Sans, sans-serif" stroke="#222" stroke-width="0.18" font-size="6.9" text-anchor="middle" fill="#1a1a1a">-1</text>
<line x1="15.3" y1="992.70" x2="19.8" y2="992.70" stroke="#6a6a6a" stroke-width="0.95"/>
<text transform="translate(11.30 992.70) rotate(-90)" font-family="Liberation Sans, sans-serif" stroke="#222" stroke-width="0.18" font-size="6.9" text-anchor="middle" fill="#1a1a1a">-2</text>
<line x1="15.3" y1="1032.40" x2="19.8" y2="1032.40" stroke="#6a6a6a" stroke-width="0.95"/>
<text transform="translate(11.30 1032.40) rotate(-90)" font-family="Liberation Sans, sans-serif" stroke="#222" stroke-width="0.18" font-size="6.9" text-anchor="middle" fill="#1a1a1a">-3</text>
<rect x="267.4" y="770.9" width="51.200000000000045" height="24.600000000000023" fill="#fff"/>
<path d="M267.4 770.9V795.5H318.6" fill="none" stroke="#4a4a4a" stroke-width="0.95"/>
<circle cx="273.79999999999995" cy="779.2" r="1.75" fill="none" stroke="#C4325A" stroke-width="0.9"/>
<circle cx="273.79999999999995" cy="787.2" r="1.75" fill="none" stroke="#3FA04D" stroke-width="0.9"/>
<text x="279.7" y="782.0" font-family="Liberation Sans, sans-serif" stroke="#222" stroke-width="0.18" font-size="6.7" fill="#000">grazing</text>
<text x="279.7" y="790.0" font-family="Liberation Sans, sans-serif" stroke="#222" stroke-width="0.18" font-size="6.7" fill="#000">non grazing</text>
<path d="M19.8 770.3V1070.3999999999999M318.6 770.3V1070.3999999999999" fill="none" stroke="#4a4a4a" stroke-width="1.05"/>
<path d="M19.3 770.9H319.1" fill="none" stroke="#858585" stroke-width="1.45"/>
<path d="M19.3 1069.8H319.1" fill="none" stroke="#666" stroke-width="1.35"/>
<rect x="135.8" y="769" width="39.9" height="2.15" fill="#fff"/><line x1="135.8" y1="771.4" x2="175.7" y2="771.4" stroke="#b8b8b8" stroke-width="0.6"/><line x1="267.4" y1="771.1" x2="319" y2="771.1" stroke="#555" stroke-width="1"/>
<text x="173.3" y="766.6" font-family="Liberation Serif, serif" font-weight="bold" fill="#0a0a0a" stroke="#0a0a0a" stroke-width="0.28" font-size="12.85" text-anchor="middle">Scores plot</text>
<text x="42.6" y="808" font-family="Liberation Serif, serif" font-weight="bold" fill="#0a0a0a" stroke="#0a0a0a" stroke-width="0.28" font-size="21">e</text>
<text x="27.1" y="877.1" font-family="Liberation Serif, serif" font-weight="bold" fill="#0a0a0a" stroke="#0a0a0a" stroke-width="0.28" font-size="12.85">PC 2</text>
<text x="27.1" y="891.45" font-family="Liberation Serif, serif" font-weight="bold" fill="#0a0a0a" stroke="#0a0a0a" stroke-width="0.28" font-size="12.85">(23.5%)</text>
<text x="146.7" y="1054.8" font-family="Liberation Serif, serif" font-weight="bold" fill="#0a0a0a" stroke="#0a0a0a" stroke-width="0.28" font-size="12.85">PC 1 (76.5%)</text>
<text x="122.3" y="1112.6" font-family="Liberation Serif, serif" font-weight="bold" fill="#0a0a0a" stroke="#0a0a0a" stroke-width="0.28" font-size="14.8"><tspan>R</tspan><tspan font-size="8" dy="-5.6">2</tspan><tspan dy="5.6" font-size="14.8">&#8203;</tspan><tspan>= 0.15 Q</tspan><tspan font-size="8" dy="-5.6">2</tspan><tspan dy="5.6" font-size="14.8">&#8203;</tspan><tspan>= -0.20</tspan></text>
</svg>
</body></html>
